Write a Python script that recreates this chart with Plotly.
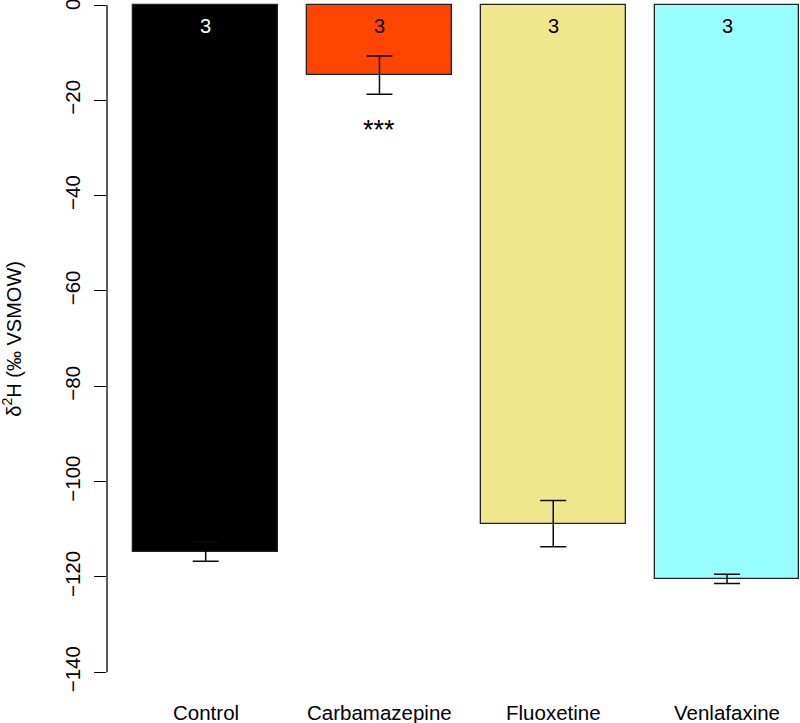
import plotly.graph_objects as go

categories = ["Control", "Carbamazepine", "Fluoxetine", "Venlafaxine"]
means = [-114.7, -14.7, -108.8, -120.4]
se = [2.0, 4.0, 4.85, 0.95]
n_labels = ["3", "3", "3", "3"]
colors = ["#000000", "#FF4500", "#F0E68C", "#97FFFF"]
n_label_colors = ["white", "black", "black", "black"]
sig_labels = ["", "***", "", ""]
y_ticks = [0, -20, -40, -60, -80, -100, -120, -140]

centers = [0.7, 1.9, 3.1, 4.3]
FONT = "Liberation Sans, Arial, Helvetica, sans-serif"

fig = go.Figure()
fig.add_trace(go.Bar(
    x=centers, y=means, width=1.0,
    marker=dict(color=colors, line=dict(color="#222222", width=1.3)),
    error_y=dict(type="data", array=se, visible=True, color="#0a0a0a",
                 thickness=1.5, width=13),
    showlegend=False, hoverinfo="skip",
))

annotations = []
for xc, lab, col in zip(centers, n_labels, n_label_colors):
    annotations.append(dict(x=xc, y=-4.4, xref="x", yref="y", text=lab,
                            showarrow=False, font=dict(size=20, color=col, family=FONT)))
for xc, lab in zip(centers, sig_labels):
    if lab:
        annotations.append(dict(x=xc, y=-26.2, xref="x", yref="y", text=lab,
                                showarrow=False, font=dict(size=27, color="black", family=FONT)))
for xc, lab in zip(centers, categories):
    annotations.append(dict(x=xc, y=-145.6, xref="x", yref="y", text=lab,
                            showarrow=False, yanchor="middle", yshift=-13,
                            font=dict(size=20.5, color="black", family=FONT)))
# top "0" tick label (partly cut off at the top edge, as in the reference)
annotations.append(dict(x=-(107 - 72) / 693, y=y_ticks[0], xref="paper", yref="y",
                        text=str(y_ticks[0]), textangle=-90, showarrow=False,
                        xanchor="center", yanchor="middle",
                        font=dict(size=20.5, color="black", family=FONT)))
annotations.append(dict(x=-(107 - 12) / 693, y=-70, xref="paper", yref="y",
                        text="δ<sup>2</sup>H (‰ VSMOW)", textangle=-90, showarrow=False,
                        xanchor="center", yanchor="middle",
                        font=dict(size=20, color="black", family=FONT)))

fig.update_layout(
    width=800, height=723,
    margin=dict(l=107, r=0, t=0, b=24, autoexpand=False),
    paper_bgcolor="white", plot_bgcolor="white",
    font=dict(family=FONT, size=20, color="black"),
    annotations=annotations,
    shapes=[dict(type="line", xref="paper", yref="y", x0=0, x1=0, y0=0, y1=-140,
                 line=dict(color="black", width=1.3))],
    bargap=0,
)
fig.update_xaxes(range=[0.0184, 4.804], showticklabels=False, automargin=False,
                 showgrid=False, zeroline=False, showline=False, ticks="")
fig.update_yaxes(range=[-145.6, 1.05], tickvals=y_ticks, automargin=False,
                 ticktext=["" if v == 0 else "\u2212" + str(-v) for v in y_ticks],
                 showgrid=False, zeroline=False, showline=False,
                 ticks="outside", ticklen=12, tickwidth=1.3, tickcolor="black",
                 ticklabelstandoff=6,
                 tickangle=-90, tickfont=dict(size=20.5, family=FONT, color="black"))

fig.write_html("out.html", config={"displayModeBar": False},
               post_script="document.body.style.margin='0';document.body.style.overflow='hidden';")
